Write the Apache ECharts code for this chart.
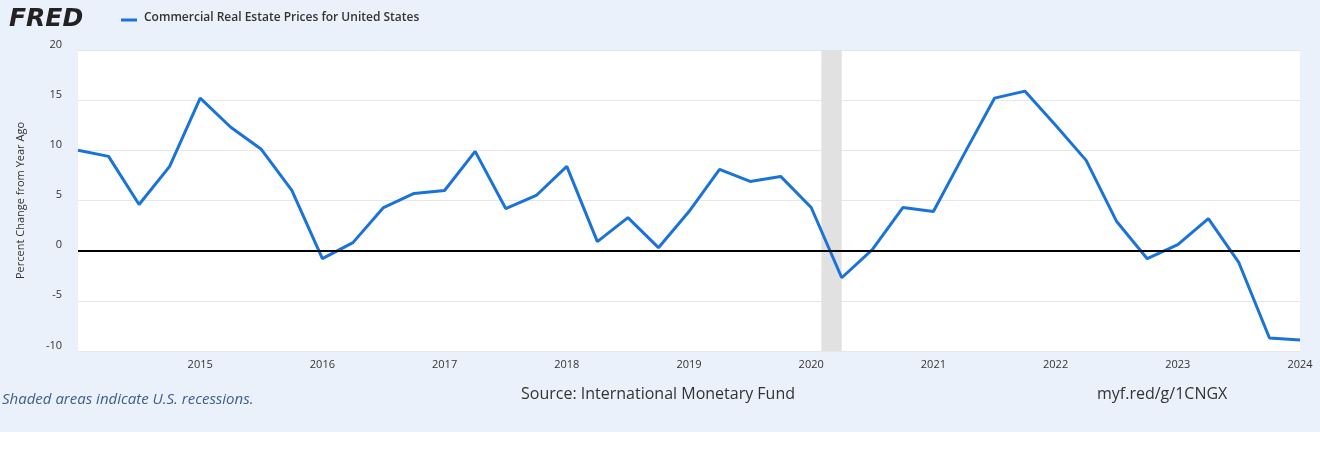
<!DOCTYPE html>
<html><head><meta charset="utf-8">
<script src="https://cdn.jsdelivr.net/npm/echarts@6/dist/echarts.min.js"></script>
<style>html,body{margin:0;padding:0;background:#fff}#c{width:1320px;height:473px}</style>
</head><body><div id="c"></div>
<script>
const startYear = 2014;
const values = [10.0,9.4,4.6,8.4,15.2,12.3,10.1,6.0,-0.8,0.8,4.3,5.7,6.0,9.9,4.2,5.5,8.4,0.9,3.3,0.3,3.9,8.1,6.9,7.4,4.3,-2.7,0.1,4.3,3.9,9.6,15.2,15.9,12.5,9.0,2.9,-0.8,0.6,3.2,-1.2,-8.7,-8.9];
const recession = [2020 + 1/12, 2020 + 3/12];
const data = values.map((v,i)=>[startYear + i*0.25, v]);
const chart = echarts.init(document.getElementById('c'));
chart.setOption({
  animation:false,
  backgroundColor:'#fff',
  graphic:[
    {type:'rect',z:-10,shape:{x:0,y:0,width:1320,height:432},style:{fill:'#eaf1fa'}},
    {type:'text',left:9,top:7,style:{text:'FRED',font:'italic 900 25px "DejaVu Sans"',fill:'#222'}},
    {type:'line',shape:{x1:121,y1:20,x2:137,y2:20},style:{stroke:'#1a73d9',lineWidth:3}},
    {type:'text',left:144,top:12,style:{text:'Commercial Real Estate Prices for United States',font:'600 12px "Open Sans"',fill:'#333'}},
    {type:'text',left:2,top:392,style:{text:'Shaded areas indicate U.S. recessions.',font:'italic 15px "Open Sans"',fill:'#3d5e8a'}},
    {type:'text',left:521,top:386,style:{text:'Source: International Monetary Fund',font:'16px "Open Sans"',fill:'#333'}},
    {type:'text',left:1097,top:386,style:{text:'myf.red/g/1CNGX',font:'16px "Open Sans"',fill:'#333'}}
  ],
  grid:{left:78,right:20,top:50,bottom:122,backgroundColor:'#fff',show:true,borderWidth:0},
  xAxis:{type:'value',min:2014,max:2024,interval:1,
    axisLine:{show:false},axisTick:{show:false},splitLine:{show:false},
    axisLabel:{fontSize:11,color:'#333',fontFamily:'Open Sans',formatter:v=>v===2014?'':String(v)}},
  yAxis:{type:'value',min:-10,max:20,interval:5,
    name:'Percent Change from Year Ago',nameLocation:'middle',nameGap:52,
    nameTextStyle:{fontSize:11,color:'#333',fontFamily:'Open Sans'},
    axisLabel:{fontSize:11,color:'#333',fontFamily:'Open Sans',margin:16,verticalAlign:'bottom'},
    axisLine:{show:false},axisTick:{show:false},
    splitLine:{lineStyle:{color:'#e6e6e6'}}},
  series:[{type:'line',data:data,showSymbol:false,lineStyle:{color:'#1a73d9',width:3},color:'#1a73d9',
    markArea:{silent:true,itemStyle:{color:'#e1e1e1'},data:[[{xAxis:recession[0]},{xAxis:recession[1]}]]},
    markLine:{silent:true,symbol:'none',label:{show:false},lineStyle:{color:'#000',width:2,type:'solid'},data:[{yAxis:0}]}
  }]
});
</script></body></html>
